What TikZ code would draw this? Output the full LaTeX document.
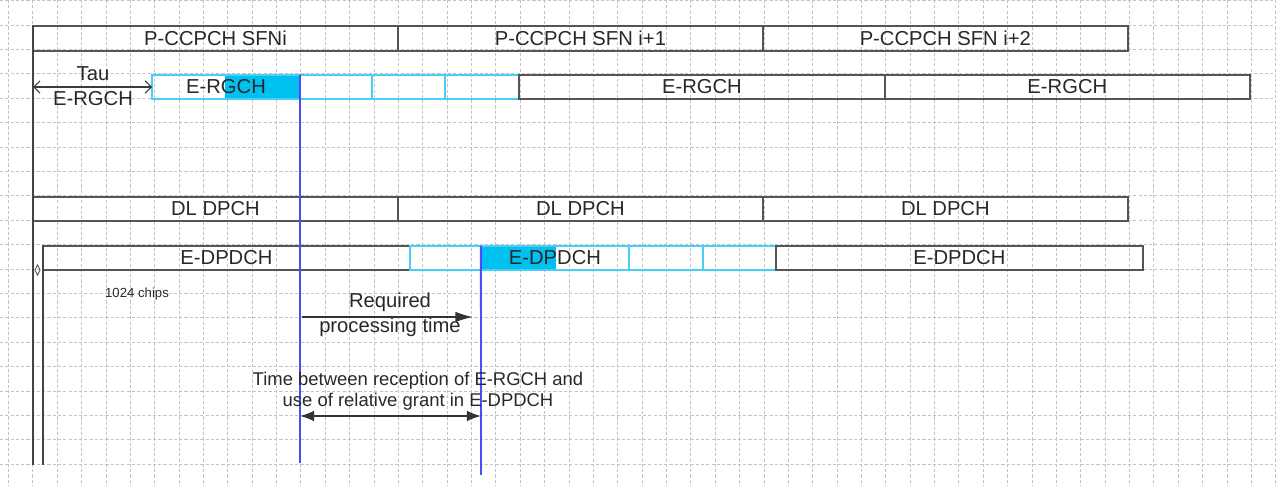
\documentclass[tikz,border=0pt]{standalone}
\usepackage{fontspec}
\setmainfont{Liberation Sans}
\usepackage{tikz}
\usepackage{xcolor}
\usetikzlibrary{arrows.meta, positioning, shapes.geometric}

\definecolor{boxgray}{RGB}{85,85,85}
\definecolor{txtgray}{RGB}{40,40,40}
\definecolor{slotcyan}{RGB}{75,205,245}
\definecolor{fillcyan}{RGB}{0,192,240}
\definecolor{markblue}{RGB}{75,75,250}
\definecolor{gridgray}{RGB}{195,195,195}

\tikzset{
    chan/.style={draw=boxgray, line width=1pt, minimum height=0.49cm, inner sep=0pt, outer sep=0pt,
        text=txtgray, font=\fontsize{11.5}{13}\selectfont},
    slot/.style={chan, draw=slotcyan},
    lbl/.style={text=txtgray, inner sep=0pt, font=\fontsize{11.5}{14.2}\selectfont},
    marker/.style={draw=markblue, line width=1.1pt},
    gridline/.style={draw=gridgray, line width=0.4pt, dash pattern=on 1.8pt off 1.2pt},
    timeline/.style={draw=boxgray!80!black, line width=0.9pt},
    spanline/.style={draw=black!80, fill=black, line width=0.9pt},
}

\begin{document}
\begin{tikzpicture}[x=0.02cm, y=-0.02cm]
    \useasboundingbox (0,0) rectangle (1276,486);

    % Grid
    \foreach \i in {0,...,52} {
        \draw[gridline] ({8.4+24.37*\i},0) -- ({8.4+24.37*\i},486);
    }
    \foreach \j in {0,...,19} {
        \draw[gridline] (0,{0.6+24.4*\j}) -- (1276,{0.6+24.4*\j});
    }

    % Highlighted slots
    \fill[fillcyan] (225,75) rectangle (300,99);
    \fill[fillcyan] (481,246) rectangle (556,270);

    % P-CCPCH frames
    \node[chan, minimum width=7.3cm] (sfn0) at (215.5,38.5) {P-CCPCH SFNi};
    \node[chan, minimum width=7.3cm, right=0pt of sfn0] (sfn1) {P-CCPCH SFN i+1};
    \node[chan, minimum width=7.3cm, right=0pt of sfn1] (sfn2) {P-CCPCH SFN i+2};

    % E-RGCH frames
    \node[slot, minimum width=2.96cm] (ergA) at (226,87) {E-RGCH};
    \node[slot, minimum width=1.44cm, right=0pt of ergA] (ergB) {};
    \node[slot, minimum width=1.46cm, right=0pt of ergB] (ergC) {};
    \node[slot, minimum width=1.48cm, right=0pt of ergC] (ergD) {};
    \node[chan, minimum width=7.32cm, right=0pt of ergD] (erg1) {E-RGCH};
    \node[chan, minimum width=7.3cm, right=0pt of erg1] (erg2) {E-RGCH};

    % DL DPCH frames
    \node[chan, minimum width=7.3cm] (dl0) at (215.5,209) {DL DPCH};
    \node[chan, minimum width=7.3cm, right=0pt of dl0] (dl1) {DL DPCH};
    \node[chan, minimum width=7.3cm, right=0pt of dl1] (dl2) {DL DPCH};

    % E-DPDCH frames
    \node[chan, minimum width=7.34cm] (dpd0) at (226.5,258) {E-DPDCH};
    \node[slot, minimum width=1.42cm, right=0pt of dpd0] (dpA) {};
    \node[slot, minimum width=2.96cm, right=0pt of dpA] (dpB) {E-DPDCH};
    \node[slot, minimum width=1.48cm, right=0pt of dpB] (dpC) {};
    \node[slot, minimum width=1.46cm, right=0pt of dpC] (dpD) {};
    \node[chan, minimum width=7.34cm, right=0pt of dpD] (dpd1) {E-DPDCH};

    % Reference lines
    \coordinate (sfnend) at (33,465);
    \coordinate (dpdend) at (43,465);
    \draw[timeline] (sfn0.north west) -- (sfnend);
    \draw[timeline] (dpd0.north west) -- (dpdend);
    \coordinate (rxend) at (300,463);
    \coordinate (useend) at (481,475);
    \draw[marker] (ergA.north east) -- (rxend);
    \draw[marker] (dpB.north west) -- (useend);

    % Tau E-RGCH offset
    \coordinate (taustart) at (ergA.west -| sfn0.west);
    \draw[line width=0.6pt, boxgray!70!black, {Straight Barb[length=3.5pt,width=7pt]}-{Straight Barb[length=3.5pt,width=7pt]}]
        (taustart) -- (ergA.west);
    \node[lbl] (tautop) at (93,74) {Tau};
    \node[lbl] (taubot) at (93,99) {E-RGCH};

    % 1024 chips offset
    \node[diamond, draw=boxgray, line width=0.5pt, minimum width=0.11cm, minimum height=0.21cm, inner sep=0pt]
        (chipmark) at (37.5,270) {};
    \node[lbl, font=\fontsize{7.5}{9}\selectfont] (chips) at (137,294) {1024 chips};

    % Processing time
    \node[lbl, align=center] (reqtxt) at (390,314.5) {Required\\processing time};
    \coordinate (reqS) at (302,317);
    \coordinate (reqE) at (473,317);
    \draw[spanline, -{Latex[length=10pt,width=6pt]}] (reqS) -- (reqE);

    % Reception to use of relative grant
    \node[lbl, align=center, font=\fontsize{10.5}{12}\selectfont] (gaptxt) at (418,391.5)
        {Time between reception of E-RGCH and\\use of relative grant in E-DPDCH};
    \coordinate (gapS) at (300,416);
    \coordinate (gapE) at (481,416);
    \draw[spanline, {Latex[length=8pt,width=6pt]}-{Latex[length=8pt,width=6pt]}] (gapS) -- (gapE);
\end{tikzpicture}
\end{document}
